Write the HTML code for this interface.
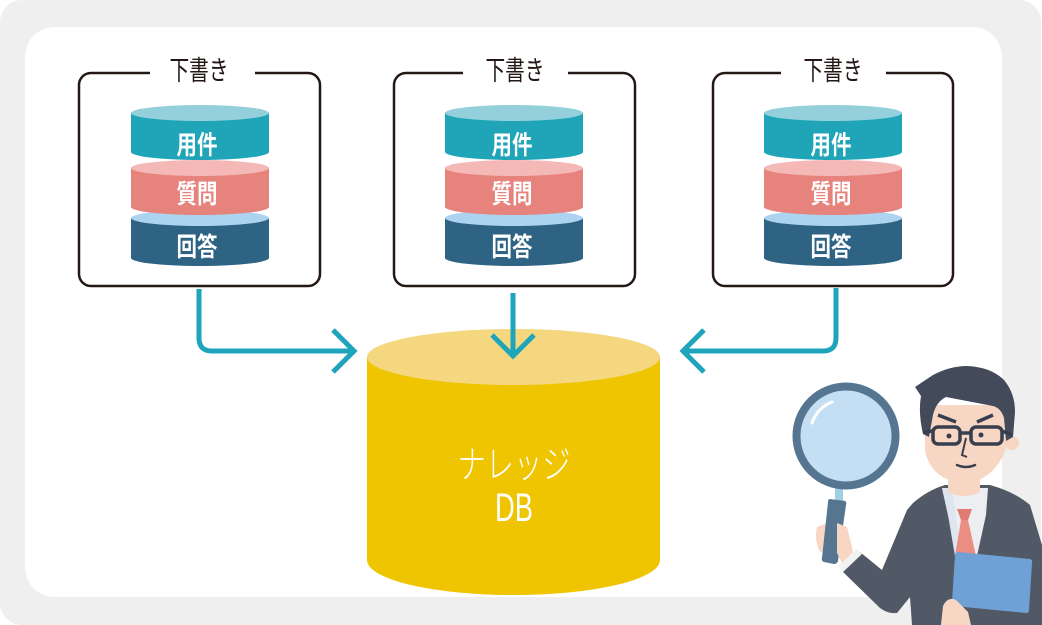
<!DOCTYPE html>
<html><head><meta charset="utf-8"><style>
html,body{margin:0;padding:0;background:#fff;width:1042px;height:625px;overflow:hidden}
svg{display:block}
.lbl{font-family:"Liberation Sans","Noto Sans CJK JP",sans-serif;font-size:27px;fill:#231815}
.cy{font-family:"Liberation Sans","Noto Sans CJK JP",sans-serif;font-size:26px;font-weight:700;fill:#fff}
</style></head><body>
<svg width="1042" height="625" viewBox="0 0 1042 625" xmlns="http://www.w3.org/2000/svg">
<rect x="0" y="0" width="1041" height="625" rx="22" fill="#efefef"/>
<rect x="25" y="27" width="977" height="570" rx="30" fill="#fff"/>

<!-- draft boxes -->
<g fill="none" stroke="#231815" stroke-width="2.5">
<rect x="79" y="73" width="241" height="213" rx="12"/>
<rect x="394" y="73" width="241" height="213" rx="12"/>
<rect x="713" y="73" width="240" height="213" rx="12"/>
</g>
<g fill="#fff">
<rect x="150" y="66" width="105" height="14"/>
<rect x="463" y="66" width="105" height="14"/>
<rect x="781" y="66" width="105" height="14"/>
</g>
<text class="lbl" x="199" y="71" text-anchor="middle" dominant-baseline="central" textLength="59" lengthAdjust="spacingAndGlyphs">下書き</text>
<text class="lbl" x="515" y="71" text-anchor="middle" dominant-baseline="central" textLength="59" lengthAdjust="spacingAndGlyphs">下書き</text>
<text class="lbl" x="833" y="71" text-anchor="middle" dominant-baseline="central" textLength="59" lengthAdjust="spacingAndGlyphs">下書き</text>

<!-- stacks -->
<defs>
<g id="stack">
  <path d="M-69,218 V258 A69,8 0 0 0 69,258 V218 Z" fill="#2f6384"/>
  <ellipse cx="0" cy="218" rx="69" ry="8" fill="#acd4f0"/>
  <path d="M-69,168 V207 A69,8 0 0 0 69,207 V168 Z" fill="#e5837c"/>
  <ellipse cx="0" cy="168" rx="69" ry="8" fill="#f4b8b7"/>
  <path d="M-69,113 V152 A69,8 0 0 0 69,152 V113 Z" fill="#1fa4b8"/>
  <ellipse cx="0" cy="113" rx="69" ry="8" fill="#93d0db"/>
</g>
</defs>
<use href="#stack" x="200" y="0"/>
<use href="#stack" x="514" y="0"/>
<use href="#stack" x="833" y="0"/>
<g class="cy">
<text x="197" y="145" text-anchor="middle" dominant-baseline="central" textLength="41" lengthAdjust="spacingAndGlyphs">用件</text>
<text x="197" y="194" text-anchor="middle" dominant-baseline="central" textLength="41" lengthAdjust="spacingAndGlyphs">質問</text>
<text x="197" y="247" text-anchor="middle" dominant-baseline="central" textLength="41" lengthAdjust="spacingAndGlyphs">回答</text>
<text x="512" y="145" text-anchor="middle" dominant-baseline="central" textLength="41" lengthAdjust="spacingAndGlyphs">用件</text>
<text x="512" y="194" text-anchor="middle" dominant-baseline="central" textLength="41" lengthAdjust="spacingAndGlyphs">質問</text>
<text x="512" y="247" text-anchor="middle" dominant-baseline="central" textLength="41" lengthAdjust="spacingAndGlyphs">回答</text>
<text x="831" y="145" text-anchor="middle" dominant-baseline="central" textLength="41" lengthAdjust="spacingAndGlyphs">用件</text>
<text x="831" y="194" text-anchor="middle" dominant-baseline="central" textLength="41" lengthAdjust="spacingAndGlyphs">質問</text>
<text x="831" y="247" text-anchor="middle" dominant-baseline="central" textLength="41" lengthAdjust="spacingAndGlyphs">回答</text>
</g>

<!-- DB cylinder -->
<path d="M367,357 V560 A146.5,35 0 0 0 660,560 V357 Z" fill="#efc400"/>
<ellipse cx="513.5" cy="357" rx="146.5" ry="28" fill="#f5d77f"/>
<text x="514" y="466" text-anchor="middle" dominant-baseline="central" textLength="113" lengthAdjust="spacingAndGlyphs" style="font-family:'Liberation Sans','Noto Sans CJK JP',sans-serif;font-size:38px;font-weight:300;fill:#fff">ナレッジ</text>
<text x="514" y="521" text-anchor="middle" textLength="38" lengthAdjust="spacingAndGlyphs" style="font-family:'Liberation Sans',sans-serif;font-size:40px;fill:#fff">DB</text>

<!-- arrows -->
<g fill="none" stroke="#1fa5bb" stroke-width="5">
<path d="M199,289 V338 Q199,351 212,351 H354"/>
<path d="M333,330 L354,351 L333,372"/>
<path d="M513,293 V356"/>
<path d="M492,335 L513,356 L534,335"/>
<path d="M836,288 V338 Q836,351 823,351 H683"/>
<path d="M704,330 L683,351 L704,372"/>
</g>

<!-- person -->
<g>
  <path d="M913,503 Q928,490 945,485 L990,485 Q1015,492 1030,505 L1042,545 L1042,625 L912,625 L910,597 L897,613 Q888,614 880,608 L843,572 L860,552 L882,570 L907,510 Z" fill="#525966"/>
  <path d="M838,566 L857,549 L862,554 L843,572 Z" fill="#f2f2f2"/>
  <path d="M942,488 L988,488 L986,515 L975,565 L960,565 L948,515 Z" fill="#eceef1"/>
  <path d="M942,488 L952,488 L962,560 L956,562 L948,515 Z" fill="#dfe5ee"/>
  <path d="M957,509 L972,509 L968,520 L961,520 Z" fill="#e07b74"/>
  <path d="M961,520 L968,520 L976,556 L967,568 L955,556 Z" fill="#ec8d84"/>
  <path d="M948,468 L980,468 L980,492 Q965,500 948,492 Z" fill="#f8d6c4"/>
  <path d="M958,552 L1030,559 Q1033,560 1032,563 L1029,610 Q1029,613 1026,613 L954,606 Q951,605 952,602 L955,555 Q955,552 958,552 Z" fill="#6fa0d6"/>
  <path d="M943,606 Q948,596 956,600 L968,612 L971,625 L941,625 Z" fill="#f8d6c4"/>
  <path d="M925,405 L925,450 Q929,475 955,482 Q966,486 977,481 Q999,471 1006,448 L1008,405 Z" fill="#f8d6c4"/>
  <circle cx="1012" cy="443" r="7" fill="#f8d6c4"/>
  <path d="M915,387 L933,375 Q950,366 967,366 Q990,367 1003,379 Q1015,392 1015,412 L1013,437 L1006,441 L1004,418 Q1001,408 993,406 L946,397 Q936,402 933,415 L929,437 L923,434 Q918,412 921,396 Z" fill="#434a5a"/>
  <g fill="none" stroke="#373f4e" stroke-width="3.5">
    <rect x="933" y="427" width="27" height="17" rx="5"/>
    <rect x="971" y="427" width="31" height="17" rx="5"/>
    <path d="M960,433 L971,433 M933,431 L923,432 M1002,431 L1012,435"/>
    <path d="M938,415 L956,422 M977,422 L993,415"/>
  </g>
  <circle cx="949" cy="436" r="2.5" fill="#373f4e"/>
  <circle cx="981" cy="435" r="2.5" fill="#373f4e"/>
  <path d="M966,438 L962,455 L967,457" fill="none" stroke="#373f4e" stroke-width="2"/>
  <path d="M957,465 Q966,469 975,465" fill="none" stroke="#373f4e" stroke-width="2.5" stroke-linecap="round"/>
  <path d="M817,527 L827,523 L830,550 L820,552 Q814,540 817,527 Z" fill="#f8d6c4"/>
  <rect x="835" y="488" width="8" height="14" fill="#9fd0e2"/>
  <path d="M830,499 L845,501 Q847,502 846,505 L838,561 Q837,564 834,564 L824,562 Q821,561 822,558 L828,502 Q828,499 830,499 Z" fill="#557591"/>
  <path d="M837,523 L847,527 L852,547 L853,552 L842,563 L837,553 Z" fill="#f8d6c4"/>
  <circle cx="846" cy="436" r="49.5" fill="#c4dff3" stroke="#557591" stroke-width="8"/>
  <path d="M812,423 Q817,408 832,402" fill="none" stroke="#fff" stroke-width="3" stroke-linecap="round"/>
</g>
</svg>
</body></html>
